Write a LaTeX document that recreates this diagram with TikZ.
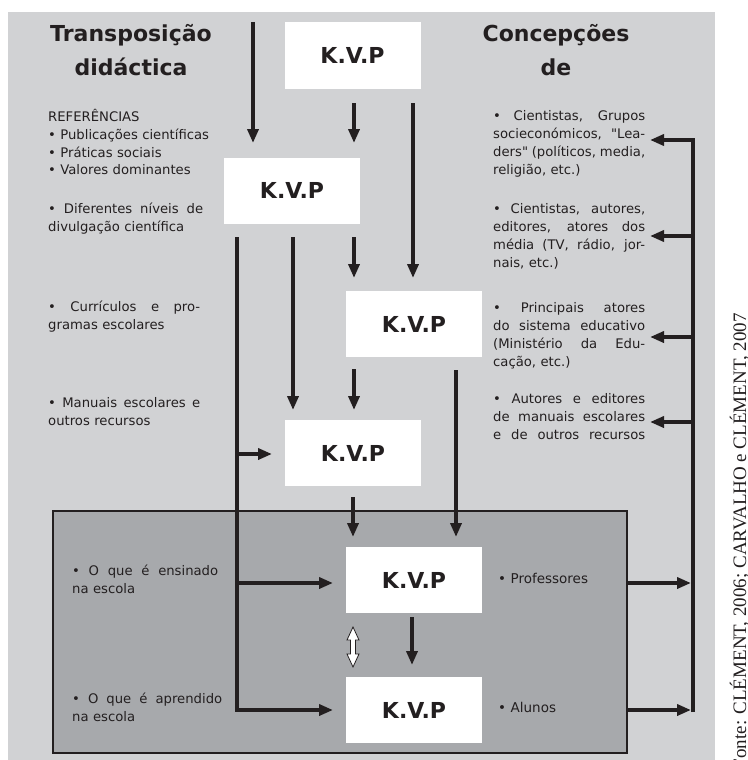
\documentclass[tikz,border=0pt]{standalone}
\usepackage{fontspec}
\setmainfont{DejaVu Sans}[Ligatures=TeXOff]
\newfontfamily\capfont{Liberation Serif}
\usetikzlibrary{arrows.meta}
\definecolor{bgA}{HTML}{D1D2D4}
\definecolor{bgB}{HTML}{A7A9AC}
\definecolor{ink}{HTML}{231F20}
\newcommand\jl[1]{{\spaceskip=0pt\xspaceskip=0pt\makebox[\hsize][s]{#1}}}
\tikzset{
  kvp/.style={fill=white, minimum width=136pt, minimum height=66pt, inner sep=0pt,
    font=\fontsize{22}{22}\selectfont\bfseries, text=ink},
  ttl/.style={inner sep=0pt, anchor=base, align=center,
    font=\fontsize{22}{33}\selectfont\bfseries, text=ink},
  txt/.style={inner sep=0pt, anchor=base west, text width=#1, align=left,
    font=\fontsize{13.2}{18}\selectfont, text=ink},
  txt/.default=155pt,
  arr/.style={line width=4pt, draw=ink, -{Triangle[length=14pt,width=11pt]}},
}
\begin{document}
\begin{tikzpicture}[x=1pt,y=-1pt]
\useasboundingbox (0,0) rectangle (747,760);
\fill[bgA] (8,12) rectangle (715,760);
\draw[fill=bgB, line width=1.5pt, draw=ink] (53,511) rectangle (627,753);

% titles
\node[ttl] (t1) at (131,75) {Transposição\\didáctica};
\node[ttl] (t2) at (556,75) {Concepções\\de};

% K.V.P boxes
\node[kvp] (b1) at (352.5,55.5) {K.V.P};
\node[kvp] (b2) at (292,190.5) {K.V.P};
\node[kvp] (b3) at (414,324) {K.V.P};
\node[kvp] (b4) at (353,453) {K.V.P};
\node[kvp] (b5) at (414,580) {K.V.P};
\node[kvp] (b6) at (414,710) {K.V.P};

% left texts
\node[txt=170pt] (l1) at (48,121) {REFERÊNCIAS\\• Publicações científicas\\• Práticas sociais\\• Valores dominantes};
\node[txt] (l2) at (48,213) {\jl{• Diferentes níveis de}\\divulgação científica};
\node[txt=152pt] (l3) at (48,311) {\jl{• Currículos e pro-}\\gramas escolares};
\node[txt=152pt] (l4) at (48,407) {\jl{• Manuais escolares e}\\outros recursos};
\node[txt=146pt] (l5) at (72,575) {\jl{• O que é ensinado}\\na escola};
\node[txt=150pt] (l6) at (72,703) {\jl{• O que é aprendido}\\na escola};

% right texts
\node[txt=152pt] (r1) at (493,120) {\jl{• Cientistas, Grupos}\\\jl{socieconómicos, "Lea-}\\\jl{ders" (políticos, media,}\\religião, etc.)};
\node[txt=152pt] (r2) at (493,213) {\jl{• Cientistas, autores,}\\\jl{editores, atores dos}\\\jl{média (TV, rádio, jor-}\\nais, etc.)};
\node[txt=152pt] (r3) at (493,312) {\jl{• Principais atores}\\\jl{do sistema educativo}\\\jl{(Ministério da Edu-}\\cação, etc.)};
\node[txt=152pt] (r4) at (493,403) {\jl{• Autores e editores}\\\jl{de manuais escolares}\\\jl{e de outros recursos}};
\node[txt=120pt, font=\fontsize{13.5}{18}\selectfont] (r5) at (498,583) {• Professores};
\node[txt=120pt, font=\fontsize{13.5}{18}\selectfont] (r6) at (498,712) {• Alunos};

% source
\node[rotate=90, anchor=base east, inner sep=0pt, text=ink,
  font=\capfont\fontsize{19}{19}\selectfont] (src) at (746,313)
  {Fonte: CLÉMENT, 2006; CARVALHO e CLÉMENT, 2007};

% coordinates
\coordinate (a1s) at (253,22);   \coordinate (a1e) at (253,143);
\coordinate (a2s) at (354,103);  \coordinate (a2e) at (354,143);
\coordinate (a3s) at (413,103);  \coordinate (a3e) at (413,278);
\coordinate (a4s) at (237,237);  \coordinate (a4c) at (237,710); \coordinate (a4e) at (333,710);
\coordinate (a4m1) at (237,454); \coordinate (a4t1) at (272,454);
\coordinate (a4m2) at (237,583); \coordinate (a4t2) at (333,583);
\coordinate (a5s) at (293,237);  \coordinate (a5e) at (293,410);
\coordinate (a6s) at (354,237);  \coordinate (a6e) at (354,278);
\coordinate (a7s) at (354,369);  \coordinate (a7e) at (354,410);
\coordinate (a8s) at (456,370);  \coordinate (a8e) at (456,537);
\coordinate (a9s) at (353,497);  \coordinate (a9e) at (353,537);
\coordinate (a10s) at (412,617); \coordinate (a10e) at (412,665);
\coordinate (p1s) at (627,583);  \coordinate (p1e) at (691,583);
\coordinate (p2s) at (627,710);  \coordinate (p2e) at (691,710);
\coordinate (fb0) at (693,712);  \coordinate (fb1) at (693,140);
\coordinate (fe1) at (650,140);
\coordinate (fb2) at (693,236);  \coordinate (fe2) at (650,236);
\coordinate (fb3) at (693,337);  \coordinate (fe3) at (650,337);
\coordinate (fb4) at (693,422);  \coordinate (fe4) at (650,422);

\draw[arr] (a1s) -- (a1e);
\draw[arr] (a2s) -- (a2e);
\draw[arr] (a3s) -- (a3e);
\draw[arr] (a4s) -- (a4c) -- (a4e);
\draw[arr] (a4m1) -- (a4t1);
\draw[arr] (a4m2) -- (a4t2);
\draw[arr] (a5s) -- (a5e);
\draw[arr] (a6s) -- (a6e);
\draw[arr] (a7s) -- (a7e);
\draw[arr] (a8s) -- (a8e);
\draw[arr] (a9s) -- (a9e);
\draw[arr, line width=3.5pt] (a10s) -- (a10e);
\draw[arr] (p1s) -- (p1e);
\draw[arr] (p2s) -- (p2e);
\draw[arr] (fb0) -- (fb1) -- (fe1);
\draw[arr] (fb2) -- (fe2);
\draw[arr] (fb3) -- (fe3);
\draw[arr] (fb4) -- (fe4);

% white double arrow
\draw[fill=white, draw=ink, line width=0.8pt]
  (353,627) -- (359,640) -- (355.5,640) -- (355.5,654) -- (359,654) -- (353,667)
  -- (347,654) -- (350.5,654) -- (350.5,640) -- (347,640) -- cycle;
\end{tikzpicture}
\end{document}
